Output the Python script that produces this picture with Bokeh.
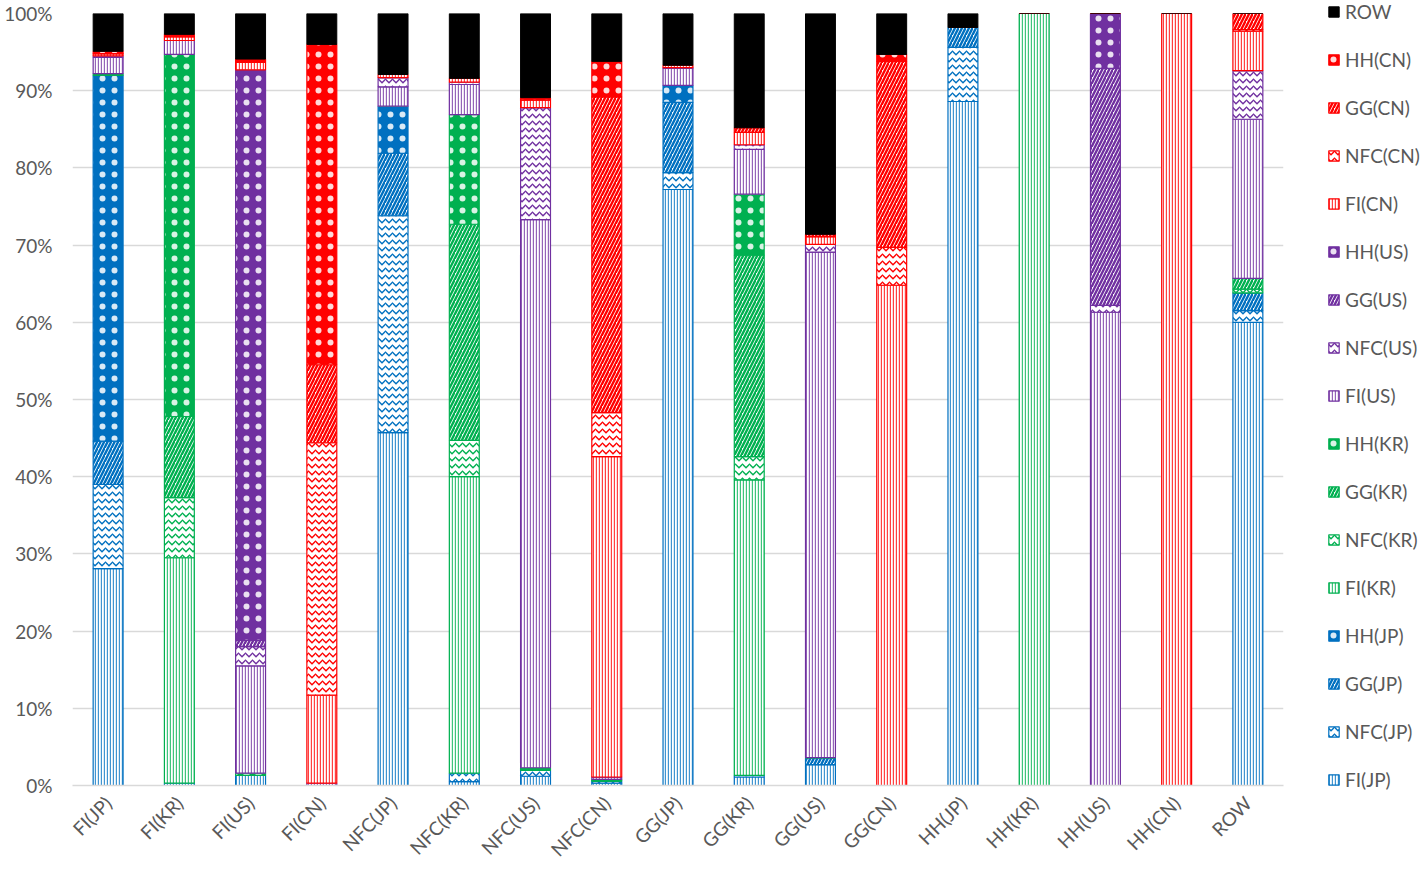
import math
from bokeh.plotting import figure
from bokeh.models import ColumnDataSource, Legend, LegendItem, NumeralTickFormatter, FixedTicker
from bokeh.transform import stack
from bokeh.embed import file_html
from bokeh.resources import INLINE

categories = ["FI(JP)", "FI(KR)", "FI(US)", "FI(CN)", "NFC(JP)", "NFC(KR)", "NFC(US)", "NFC(CN)",
              "GG(JP)", "GG(KR)", "GG(US)", "GG(CN)", "HH(JP)", "HH(KR)", "HH(US)", "HH(CN)", "ROW"]

series_names = ["FI(JP)", "NFC(JP)", "GG(JP)", "HH(JP)",
                "FI(KR)", "NFC(KR)", "GG(KR)", "HH(KR)",
                "FI(US)", "NFC(US)", "GG(US)", "HH(US)",
                "FI(CN)", "NFC(CN)", "GG(CN)", "HH(CN)", "ROW"]

# values in percent, one per category (same order as categories)
#        FI(JP) FI(KR) FI(US) FI(CN) NFC(JP) NFC(KR) NFC(US) NFC(CN) GG(JP) GG(KR) GG(US) GG(CN) HH(JP) HH(KR) HH(US) HH(CN) ROW
FI_JP  = [28.1, 0.3, 1.3, 0.0, 45.7, 0.5, 1.2, 0.3, 77.2, 1.1, 2.7, 0.0, 88.6, 0.0, 0.0, 0.0, 60.0]
NFC_JP = [10.9, 0.0, 0.0, 0.0, 28.1, 1.1, 0.8, 0.3, 2.2, 0.2, 0.0, 0.0, 7.0, 0.0, 0.0, 0.0, 1.5]
GG_JP  = [5.6, 0.0, 0.0, 0.0, 8.1, 0.0, 0.0, 0.0, 9.1, 0.0, 0.9, 0.0, 2.6, 0.0, 0.0, 0.0, 2.3]
HH_JP  = [47.4, 0.0, 0.0, 0.0, 6.1, 0.0, 0.0, 0.0, 2.2, 0.0, 0.0, 0.0, 0.0, 0.0, 0.0, 0.0, 0.0]
FI_KR  = [0.0, 29.2, 0.0, 0.0, 0.0, 38.4, 0.0, 0.0, 0.0, 38.3, 0.0, 0.0, 0.0, 100.0, 0.0, 0.0, 0.0]
NFC_KR = [0.0, 7.8, 0.0, 0.0, 0.0, 4.7, 0.0, 0.0, 0.0, 3.0, 0.0, 0.0, 0.0, 0.0, 0.0, 0.0, 0.5]
GG_KR  = [0.0, 10.5, 0.0, 0.0, 0.0, 28.0, 0.0, 0.0, 0.0, 26.1, 0.0, 0.0, 0.0, 0.0, 0.0, 0.0, 1.4]
HH_KR  = [0.2, 46.9, 0.3, 0.0, 0.0, 14.2, 0.3, 0.2, 0.0, 7.9, 0.0, 0.0, 0.0, 0.0, 0.0, 0.0, 0.0]
FI_US  = [2.1, 1.8, 13.9, 0.3, 2.5, 3.9, 71.0, 0.3, 2.2, 5.8, 65.5, 0.0, 0.0, 0.0, 61.3, 0.0, 20.6]
NFC_US = [0.2, 0.0, 2.5, 0.0, 1.2, 0.3, 14.5, 0.0, 0.1, 0.6, 1.0, 0.0, 0.0, 0.0, 0.9, 0.0, 6.3]
GG_US  = [0.0, 0.0, 0.8, 0.0, 0.0, 0.0, 0.0, 0.0, 0.0, 0.0, 0.0, 0.0, 0.0, 0.0, 30.7, 0.0, 0.0]
HH_US  = [0.0, 0.0, 73.9, 0.0, 0.0, 0.0, 0.0, 0.0, 0.0, 0.0, 0.0, 0.0, 0.0, 0.0, 7.1, 0.0, 0.0]
FI_CN  = [0.3, 0.5, 1.0, 11.4, 0.4, 0.5, 1.0, 41.5, 0.3, 1.6, 1.0, 64.8, 0.0, 0.0, 0.0, 100.0, 5.1]
NFC_CN = [0.0, 0.0, 0.0, 32.7, 0.0, 0.0, 0.0, 5.7, 0.0, 0.0, 0.0, 4.9, 0.0, 0.0, 0.0, 0.0, 0.2]
GG_CN  = [0.0, 0.0, 0.0, 10.1, 0.0, 0.0, 0.0, 40.9, 0.0, 0.6, 0.3, 24.1, 0.0, 0.0, 0.0, 0.0, 2.1]
HH_CN  = [0.3, 0.3, 0.4, 41.5, 0.0, 0.0, 0.3, 4.6, 0.0, 0.0, 0.0, 0.9, 0.0, 0.0, 0.0, 0.0, 0.0]
ROW    = [4.9, 2.7, 5.9, 4.0, 7.9, 8.4, 10.9, 6.2, 6.7, 14.8, 28.6, 5.3, 1.8, 0.0, 0.0, 0.0, 0.0]

y_ticks = [0, 10, 20, 30, 40, 50, 60, 70, 80, 90, 100]

series_values = [FI_JP, NFC_JP, GG_JP, HH_JP, FI_KR, NFC_KR, GG_KR, HH_KR,
                 FI_US, NFC_US, GG_US, HH_US, FI_CN, NFC_CN, GG_CN, HH_CN, ROW]

country_colors = {"JP": "#0070C0", "KR": "#00B050", "US": "#7030A0", "CN": "#FF0000"}
FONT = "Lato"
TXT = "#595959"
FS = "19px"

data = {"cat": categories}
keys = []
for i, vals in enumerate(series_values):
    k = "s%d" % i
    keys.append(k)
    data[k] = [v / 100.0 for v in vals]
source = ColumnDataSource(data)

p = figure(x_range=categories, y_range=(0, 1.0), width=1420, height=866,
           output_backend="svg", toolbar_location=None,
           min_border_left=72, min_border_right=137, min_border_top=13, min_border_bottom=81)
p.frame_width = 1211
p.frame_height = 772
p.outline_line_color = None
p.background_fill_color = "white"
p.x_range.range_padding = 0
p.x_range.factor_padding = 0

renderers = []
for i, name in enumerate(series_names):
    kind = name.split("(")[0]
    if name == "ROW":
        style = dict(fill_color="black", line_color="black", line_width=1)
    else:
        col = country_colors[name[-3:-1]]
        if kind == "FI":
            style = dict(fill_color="white", line_color=col, line_width=1.2,
                         hatch_pattern="vertical_line", hatch_color=col,
                         hatch_scale=3, hatch_weight=1.4, hatch_alpha=0.75)
        elif kind == "NFC":
            style = dict(fill_color="white", line_color=col, line_width=1.2,
                         hatch_pattern="horizontal_wave", hatch_color=col,
                         hatch_scale=7, hatch_weight=1.4)
        elif kind == "GG":
            style = dict(fill_color="white", line_color=col, line_width=1.2,
                         hatch_pattern="right_diagonal_line", hatch_color=col,
                         hatch_scale=7, hatch_weight=2.4)
        else:
            style = dict(fill_color=col, line_color=col, line_width=1.2,
                         hatch_pattern="dot", hatch_color="white",
                         hatch_scale=12, hatch_weight=0.9, hatch_alpha=0.85)
    r = p.vbar(x="cat", bottom=stack(*keys[:i]), top=stack(*keys[:i + 1]),
               width=0.42, source=source, **style)
    renderers.append(r)

# grid / axes
p.xgrid.grid_line_color = None
p.ygrid.grid_line_color = "#D9D9D9"
p.ygrid.grid_line_width = 1.3
p.yaxis.ticker = FixedTicker(ticks=[t / 100.0 for t in y_ticks])
p.yaxis.formatter = NumeralTickFormatter(format="0%")
p.yaxis.axis_line_color = None
p.yaxis.major_tick_line_color = None
p.yaxis.minor_tick_line_color = None
p.yaxis.major_label_text_font = FONT
p.yaxis.major_label_text_font_size = FS
p.yaxis.major_label_text_color = TXT
p.yaxis.major_label_standoff = 14

p.xaxis.axis_line_color = "#D9D9D9"
p.xaxis.axis_line_width = 1.3
p.xaxis.major_tick_line_color = None
p.xaxis.minor_tick_line_color = None
p.xaxis.major_label_orientation = math.pi / 4
p.xaxis.major_label_text_font = FONT
p.xaxis.major_label_text_font_size = FS
p.xaxis.major_label_text_color = TXT
p.xaxis.major_label_standoff = 8

items = [LegendItem(label=series_names[i], renderers=[renderers[i]]) for i in range(len(series_names))][::-1]
legend = Legend(items=items, location=(44, -6), orientation="vertical",
                glyph_width=13, glyph_height=13, label_height=20, spacing=25,
                label_text_font=FONT, label_text_font_size=FS, label_text_color=TXT,
                label_standoff=5, padding=0, margin=0,
                border_line_color=None, background_fill_alpha=0)
p.add_layout(legend, "right")

open("out.html", "w").write(file_html(p, INLINE))
